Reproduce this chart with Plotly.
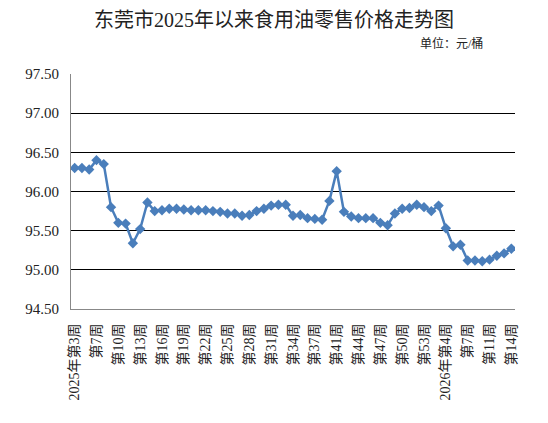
import plotly.graph_objects as go

title_text = "东莞市2025年以来食用油零售价格走势图"
unit_text = "单位：元/桶"

prices = [96.30, 96.30, 96.28, 96.40, 96.35, 95.80, 95.60, 95.59, 95.34, 95.52,
          95.86, 95.75, 95.76, 95.78, 95.78, 95.77, 95.76, 95.76, 95.76, 95.75,
          95.74, 95.72, 95.72, 95.69, 95.70, 95.75, 95.78, 95.82, 95.83, 95.83,
          95.69, 95.70, 95.66, 95.65, 95.64, 95.88, 96.26, 95.74, 95.68, 95.66,
          95.66, 95.66, 95.60, 95.57, 95.72, 95.78, 95.79, 95.83, 95.80, 95.75,
          95.82, 95.53, 95.30, 95.32, 95.12, 95.12, 95.11, 95.13, 95.18, 95.21,
          95.27]

tick_labels = ["2025年第3周", "第7周", "第10周", "第13周", "第16周", "第19周", "第22周",
               "第25周", "第28周", "第31周", "第34周", "第37周", "第41周", "第44周",
               "第47周", "第50周", "第53周", "2026年第4周", "第7周", "第11周", "第14周"]
tick_step = 3

y_ticks = [94.5, 95.0, 95.5, 96.0, 96.5, 97.0, 97.5]

x = list(range(len(prices)))
tickvals = x[::tick_step]

FONT = "Liberation Serif, Times New Roman, Noto Sans CJK SC, serif"

fig = go.Figure()
fig.add_trace(go.Scatter(
    x=x, y=prices, mode="lines+markers",
    line=dict(color="#4A7EBB", width=2.5),
    marker=dict(symbol="diamond", size=8, color="#4A7EBB"),
    showlegend=False, hoverinfo="skip",
))

fig.update_layout(
    width=548, height=423,
    margin=dict(l=71, r=33, t=74, b=114),
    paper_bgcolor="white", plot_bgcolor="white",
    font=dict(family=FONT, color="#222222"),
    title=dict(text=title_text, x=0.5, xanchor="center", y=1 - 20 / 423, yanchor="middle",
               font=dict(size=20, family=FONT, color="#222222")),
    xaxis=dict(
        range=[-0.5, len(prices) - 0.5],
        tickmode="array", tickvals=tickvals, ticktext=tick_labels,
        tickangle=-90, tickfont=dict(size=14, family=FONT),
        showgrid=False, zeroline=False,
        showline=True, linecolor="#888888", linewidth=1,
        ticks="", ticklabelstandoff=8,
    ),
    yaxis=dict(
        range=[94.5, 97.5], tickmode="array", tickvals=y_ticks,
        tickformat=".2f", tickfont=dict(size=15, family=FONT),
        showgrid=True, gridcolor="#000000", gridwidth=1,
        zeroline=False, showline=True, linecolor="#888888", linewidth=1,
        ticks="", ticklabelstandoff=8,
    ),
    annotations=[dict(
        text=unit_text, xref="paper", yref="paper",
        x=(485 - 71) / 444, y=1 + 31 / 235.6, xanchor="right", yanchor="middle",
        showarrow=False, font=dict(size=12, family=FONT, color="#222222"),
    )],
)

fig.write_html("out.html", config={"displayModeBar": False},
               post_script="document.body.style.margin='0';document.body.style.padding='0';")
